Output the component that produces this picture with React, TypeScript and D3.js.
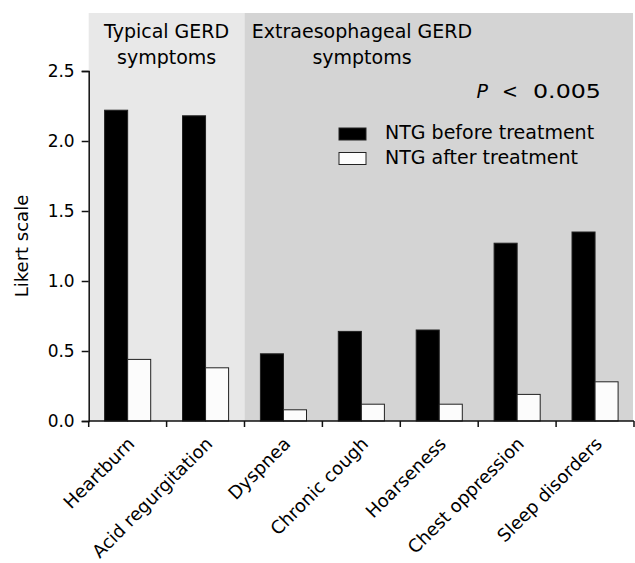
import React, { useEffect, useRef } from 'react';
import * as d3 from 'd3';

const categories = [
  'Heartburn',
  'Acid regurgitation',
  'Dyspnea',
  'Chronic cough',
  'Hoarseness',
  'Chest oppression',
  'Sleep disorders',
];
const beforeTreatment = [2.22, 2.18, 0.48, 0.64, 0.65, 1.27, 1.35];
const afterTreatment = [0.44, 0.38, 0.08, 0.12, 0.12, 0.19, 0.28];
const yTicks = [0, 0.5, 1.0, 1.5, 2.0, 2.5];
const seriesNames = ['NTG before treatment', 'NTG after treatment'];

const WIDTH = 635;
const HEIGHT = 563;
const FONT = '"DejaVu Sans", sans-serif';

const App: React.FC = () => {
  const svgRef = useRef<SVGSVGElement>(null);

  useEffect(() => {
    if (!svgRef.current) return;
    const svg = d3.select(svgRef.current);
    svg.selectAll('*').remove();

    const left = 88.7;
    const right = 634;
    const bottom = 421;
    const top = 71;

    const x = d3.scaleBand<string>().domain(categories).range([left, right]).padding(0);
    const sub = d3.scaleBand<string>()
      .domain(['before', 'after'])
      .range([0, x.bandwidth()])
      .paddingInner(0)
      .paddingOuter(0.69);
    const y = d3.scaleLinear().domain([0, 2.5]).range([bottom, top]);

    // shaded regions
    svg.append('rect')
      .attr('x', left)
      .attr('y', 13)
      .attr('width', x('Dyspnea')! - left)
      .attr('height', bottom - 13)
      .attr('fill', '#e8e8e8');
    svg.append('rect')
      .attr('x', x('Dyspnea')!)
      .attr('y', 13)
      .attr('width', 633 - x('Dyspnea')!)
      .attr('height', bottom - 13)
      .attr('fill', '#d4d4d4');

    // group headers
    const header = (cx: number, lines: string[]) => {
      lines.forEach((t, i) => {
        svg.append('text')
          .attr('x', cx)
          .attr('y', 37.5 + i * 26)
          .attr('text-anchor', 'middle')
          .style('font-family', FONT)
          .style('font-size', '19px')
          .style('fill', '#000')
          .text(t);
      });
    };
    header((left + x('Dyspnea')!) / 2, ['Typical GERD', 'symptoms']);
    header(362, ['Extraesophageal GERD', 'symptoms']);

    // bars
    categories.forEach((c, i) => {
      const x0 = x(c)!;
      svg.append('rect')
        .attr('x', x0 + sub('before')!)
        .attr('y', y(beforeTreatment[i]))
        .attr('width', sub.bandwidth())
        .attr('height', y(0) - y(beforeTreatment[i]))
        .attr('fill', '#000')
        .attr('stroke', '#222')
        .attr('stroke-width', 1);
      svg.append('rect')
        .attr('x', x0 + sub('after')!)
        .attr('y', y(afterTreatment[i]))
        .attr('width', sub.bandwidth())
        .attr('height', y(0) - y(afterTreatment[i]))
        .attr('fill', '#fcfcfc')
        .attr('stroke', '#222')
        .attr('stroke-width', 1);
    });

    // y axis
    const yAxis = svg.append('g')
      .attr('transform', `translate(${left},0)`)
      .call(d3.axisLeft(y).tickValues(yTicks).tickFormat(d3.format('.1f')).tickSize(7).tickPadding(7));
    yAxis.select('.domain').attr('stroke', '#111').attr('stroke-width', 1.5);
    yAxis.selectAll('line').attr('stroke', '#111').attr('stroke-width', 1.5);
    yAxis.selectAll('text')
      .style('font-family', FONT)
      .style('font-size', '17px')
      .style('fill', '#000');

    // x axis (ticks on category boundaries)
    const xAxisG = svg.append('g');
    xAxisG.append('line')
      .attr('x1', left)
      .attr('x2', right)
      .attr('y1', bottom)
      .attr('y2', bottom)
      .attr('stroke', '#111')
      .attr('stroke-width', 1.5);
    const bounds = categories.map(c => x(c)!).concat([right]);
    bounds.forEach(bx => {
      xAxisG.append('line')
        .attr('x1', bx)
        .attr('x2', bx)
        .attr('y1', bottom)
        .attr('y2', bottom + 6)
        .attr('stroke', '#111')
        .attr('stroke-width', 1.5);
    });
    categories.forEach(c => {
      const cx = x(c)! + x.bandwidth() / 2 + 8;
      const cy = bottom + 24;
      xAxisG.append('text')
        .attr('transform', `translate(${cx},${cy}) rotate(-45)`)
        .attr('text-anchor', 'end')
        .style('font-family', FONT)
        .style('font-size', '18px')
        .style('fill', '#000')
        .text(c);
    });

    // y label
    svg.append('text')
      .attr('transform', `translate(28,246) rotate(-90)`)
      .attr('text-anchor', 'middle')
      .style('font-family', FONT)
      .style('font-size', '18px')
      .style('fill', '#000')
      .text('Likert scale');

    // P value
    const pg = svg.append('g')
      .style('font-family', FONT)
      .style('font-size', '19px')
      .style('fill', '#000');
    pg.append('text').attr('x', 476.5).attr('y', 97.5).style('font-style', 'italic').text('P');
    pg.append('text').attr('x', 502).attr('y', 97.5).text('<');
    pg.append('text')
      .attr('transform', 'translate(533,97.5) scale(1.25,1)')
      .text('0.005');

    // legend
    const legend = svg.append('g').attr('transform', 'translate(339,128)');
    seriesNames.forEach((s, i) => {
      legend.append('rect')
        .attr('x', 0)
        .attr('y', i * 24.5)
        .attr('width', 27)
        .attr('height', 12)
        .attr('fill', i === 0 ? '#000' : '#fcfcfc')
        .attr('stroke', '#222')
        .attr('stroke-width', 1);
      legend.append('text')
        .attr('x', 46)
        .attr('y', 11 + i * 25)
        .style('font-family', FONT)
        .style('font-size', '19px')
        .style('fill', '#000')
        .text(s);
    });
  }, []);

  return (
    <svg
      ref={svgRef}
      width={WIDTH}
      height={HEIGHT}
      style={{ position: 'absolute', left: 0, top: 0, background: '#fff' }}
    />
  );
};

export default App;
